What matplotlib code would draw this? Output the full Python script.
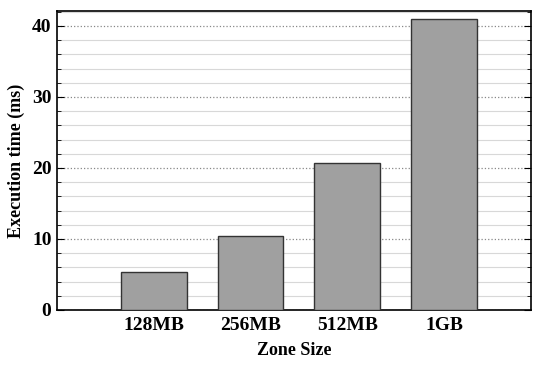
import matplotlib
matplotlib.use('Agg')
import matplotlib.pyplot as plt
import numpy as np
from matplotlib.ticker import MultipleLocator

# zone sizes and measured execution time
zones = ['128MB', '256MB', '512MB', '1GB']
exec_time = [5.3, 10.4, 20.7, 41.0]

plt.rcParams['font.family'] = 'Liberation Serif'
plt.rcParams['font.weight'] = 'bold'
plt.rcParams['font.size'] = 14

fig = plt.figure(figsize=(5.5, 3.66), dpi=100)
ax = fig.add_axes([57/550, 56/366, 474/550, 299/366])

x = np.arange(len(zones))
ax.bar(x, exec_time, width=0.68, color='#a0a0a0', edgecolor='#333333', linewidth=1.0, zorder=3)

ax.set_xlim(-1, 3.9)
ax.set_ylim(0, 42.1)
ax.yaxis.set_major_locator(MultipleLocator(10))
ax.yaxis.set_minor_locator(MultipleLocator(2))
ax.grid(which='major', axis='y', color='#888888', linestyle=':', linewidth=0.9, zorder=0)
ax.grid(which='minor', axis='y', color='#d8d8d8', linestyle='-', linewidth=0.8, zorder=0)

ax.set_xticks(x)
ax.set_xticklabels(zones)
ax.tick_params(axis='x', length=0, pad=5)
ax.tick_params(axis='y', which='both', direction='in', left=True, right=True, pad=4)
ax.tick_params(axis='y', which='major', length=5)
ax.tick_params(axis='y', which='minor', length=3)

for s in ax.spines.values():
    s.set_linewidth(1.2)

ax.set_xlabel('Zone Size', fontweight='bold', fontsize=13, labelpad=6)
ax.set_ylabel('Execution time (ms)', fontweight='bold', fontsize=13, labelpad=5)

fig.savefig('out.png', dpi=100)
